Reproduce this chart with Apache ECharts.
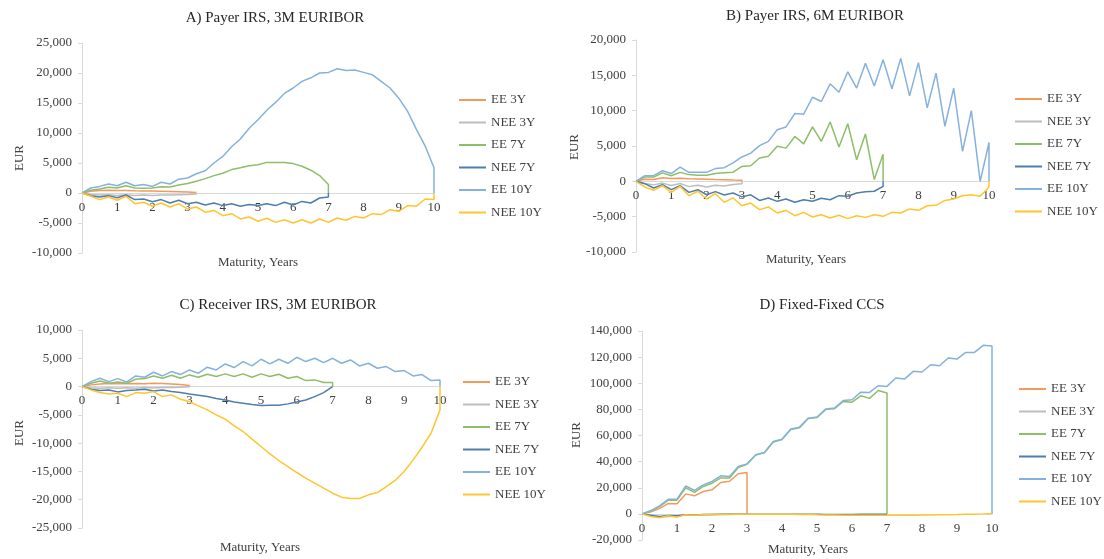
<!DOCTYPE html>
<html>
<head>
<meta charset="utf-8">
<script src="https://cdn.jsdelivr.net/npm/echarts@6/dist/echarts.min.js"></script>
<style>
  html, body { margin: 0; padding: 0; background: #fff; }
  #chart { width: 1104px; height: 559px; }
</style>
</head>
<body>
<div id="chart"></div>
<script>
// Quarterly exposure grid, in years
const maturities = [0, 0.25, 0.5, 0.75, 1, 1.25, 1.5, 1.75, 2, 2.25, 2.5, 2.75, 3, 3.25, 3.5, 3.75,
  4, 4.25, 4.5, 4.75, 5, 5.25, 5.5, 5.75, 6, 6.25, 6.5, 6.75, 7, 7.25, 7.5, 7.75,
  8, 8.25, 8.5, 8.75, 9, 9.25, 9.5, 9.75, 10];

const seriesNames = ['EE 3Y', 'NEE 3Y', 'EE 7Y', 'NEE 7Y', 'EE 10Y', 'NEE 10Y'];
const panelTitles = ['A) Payer IRS, 3M EURIBOR', 'B) Payer IRS, 6M EURIBOR',
  'C) Receiver IRS, 3M EURIBOR', 'D) Fixed-Fixed CCS'];
const xTitle = 'Maturity, Years';
const yTitle = 'EUR';

// Each profile runs quarter by quarter up to its maturity; the last entry is the
// exposure once the trade has matured, plotted at the maturity date itself.

// A) Payer IRS, 3M EURIBOR
const aEE3 = [0, 300, 400, 450, 420, 430, 380, 350, 330, 300, 260, 220, 150, 80, 0];
const aNEE3 = [0, -250, -350, -300, -400, -300, -400, -350, -400, -350, -350, -300, -250, -150, 0];
const aEE7 = [0, 450, 670, 950, 830, 1200, 830, 780, 830, 1050, 1000, 1330, 1600, 1950, 2400,
  2900, 3300, 3900, 4200, 4550, 4700, 5100, 5100, 5100, 4900, 4450, 3800, 2900, 1400, 0];
const aNEE7 = [0, -440, -670, -440, -780, -330, -1100, -1000, -1450, -1100, -1670, -1200, -1780, -1550, -2000,
  -1670, -2100, -1780, -2200, -1900, -2100, -1780, -2100, -1550, -2000, -1400, -1670, -830, -670, 0];
const aEE10 = [0, 830, 1100, 1500, 1200, 1800, 1200, 1400, 1100, 1800, 1500, 2300, 2500, 3200, 3700,
  5000, 6100, 7700, 9000, 10800, 12200, 13800, 15100, 16600, 17500, 18600, 19200, 20000, 20100, 20700,
  20400, 20500, 20100, 19700, 18600, 17500, 15800, 13600, 10600, 7800, 4200, 0];
const aNEE10 = [0, -550, -1100, -670, -1200, -550, -1780, -1550, -2200, -1670, -2330, -1780, -2670, -2330, -3200,
  -2900, -3780, -3450, -4330, -4000, -4700, -4200, -4900, -4450, -5000, -4450, -5000, -4330, -4900, -4170,
  -4550, -3900, -4170, -3450, -3600, -2780, -3050, -2100, -2200, -1000, -1100, 0];

// B) Payer IRS, 6M EURIBOR
const bEE3 = [0, 300, 250, 500, 400, 450, 350, 330, 300, 250, 220, 180, 150, 0];
const bNEE3 = [0, -300, -500, -250, -600, -300, -750, -550, -800, -550, -650, -450, -350, 0];
const bEE7 = [0, 600, 600, 1200, 800, 1270, 950, 850, 850, 1100, 1200, 1300, 2100, 2200, 3300,
  3550, 4950, 4700, 6350, 5300, 7700, 5650, 8400, 4850, 8150, 3050, 6700, 250, 3850, 0];
const bNEE7 = [0, -330, -950, -470, -1180, -600, -1560, -1180, -1900, -1460, -1930, -1650, -2200, -1900, -2700,
  -2350, -2830, -2500, -2970, -2600, -2830, -2400, -2600, -2030, -2120, -1650, -1460, -1400, -700, 0];
const bEE10 = [0, 800, 800, 1500, 1100, 2000, 1270, 1270, 1270, 1800, 1930, 2600, 3450, 4000, 5050,
  5650, 7300, 7700, 9600, 9500, 11900, 11300, 13800, 12600, 15500, 13200, 16700, 13500, 17200, 13100,
  17400, 12100, 16800, 10400, 15300, 7800, 13200, 4250, 10000, 0, 5500, 0];
const bNEE10 = [0, -800, -1270, -600, -1560, -700, -2030, -1400, -2500, -1750, -2970, -2350, -3450, -3070, -4000,
  -3630, -4480, -4100, -4860, -4390, -5050, -4720, -5190, -4810, -5280, -4860, -5100, -4720, -4950, -4390,
  -4480, -3900, -4100, -3450, -3400, -2700, -2500, -2030, -1900, -2100, -800, 0];

// C) Receiver IRS, 3M EURIBOR
const cEE3 = [0, 300, 450, 550, 500, 500, 550, 520, 600, 550, 450, 350, 200, 0];
const cNEE3 = [0, -200, -300, -200, -300, -200, -300, -150, -250, -150, -150, -100, -50, 0];
const cEE7 = [0, 590, 1000, 590, 820, 590, 1300, 1410, 1880, 1470, 2000, 1470, 2060, 1650, 2180,
  1770, 2240, 1770, 2240, 1650, 2240, 1770, 2180, 1470, 1770, 1060, 1180, 710, 710, 0];
const cNEE7 = [0, -470, -700, -590, -940, -700, -590, -470, -770, -590, -880, -1060, -1300, -1530, -1770,
  -2120, -2360, -2710, -2940, -3180, -3360, -3300, -3300, -3060, -2710, -2360, -1770, -1060, 0, 0];
const cEE10 = [0, 880, 1470, 880, 1410, 820, 1880, 1650, 2530, 1880, 2650, 2120, 2940, 2360, 3420,
  2940, 4000, 3360, 4420, 3650, 4830, 4000, 4830, 4120, 5180, 4420, 5000, 4240, 5000, 4120,
  4710, 3650, 4120, 3240, 3530, 2650, 2830, 1880, 2120, 1060, 1180, 0];
const cNEE10 = [0, -590, -1060, -1300, -1180, -1770, -1060, -1180, -880, -1770, -1470, -2240, -2650, -3420, -4120,
  -5000, -5770, -6950, -7950, -9300, -10600, -11900, -13070, -14130, -15190, -16200, -17080, -17960, -18850, -19550,
  -19790, -19790, -19140, -18730, -17670, -16600, -15020, -12960, -10720, -8250, -4120, 0];

// D) Fixed-Fixed CCS
const dEE3 = [0, 1500, 4000, 8000, 7700, 15300, 13800, 17100, 18400, 24000, 25000, 30700, 31700, 0];
const dNEE3 = [0, -1500, -2500, -2000, -1500, -800, -1000, -600, -500, -400, -300, -200, -100, 0];
const dEE7 = [0, 2000, 5500, 10500, 10500, 20000, 16500, 21000, 23500, 27500, 27500, 35500, 38000, 45000, 47000,
  55000, 57000, 64500, 66000, 73000, 73800, 80000, 80500, 86000, 85500, 90400, 88400, 94500, 92500, 0];
const dNEE7 = [0, -1000, -2000, -1200, -1500, -600, -800, -500, -400, -300, -300, -200, -200, -300, -200,
  -300, -200, -300, -200, -300, -300, -400, -500, -400, -400, -300, -300, -200, -200, 0];
const dEE10 = [0, 2550, 6100, 11200, 11200, 21500, 17900, 22200, 24800, 29100, 28600, 36300, 38300, 45200, 47000,
  55400, 57200, 64900, 66400, 73300, 74100, 80200, 81000, 86800, 87400, 93200, 93000, 98100, 97600, 104000,
  103200, 109100, 108600, 114200, 113400, 119300, 118500, 123600, 123600, 129000, 128500, 0];
const dNEE10 = [0, -2000, -3000, -1500, -2500, -600, -1000, -500, -500, -400, -400, -300, -300, -300, -200,
  -200, -300, -300, -400, -500, -700, -800, -900, -1000, -1000, -1000, -1000, -1000, -1100, -1100,
  -1000, -1000, -900, -900, -700, -600, -500, -300, -200, 0, 300, 0];

// Y-axis ranges per panel
const yRanges = [
  { min: -10000, max: 25000, interval: 5000 },
  { min: -10000, max: 20000, interval: 5000 },
  { min: -25000, max: 10000, interval: 5000 },
  { min: -20000, max: 140000, interval: 20000 }
];

const panelData = [
  [aEE3, aNEE3, aEE7, aNEE7, aEE10, aNEE10],
  [bEE3, bNEE3, bEE7, bNEE7, bEE10, bNEE10],
  [cEE3, cNEE3, cEE7, cNEE7, cEE10, cNEE10],
  [dEE3, dNEE3, dEE7, dNEE7, dEE10, dNEE10]
];

const colors = ['#F19A5E', '#BDBDBD', '#8DBE68', '#4F7DAE', '#86B1DD', '#FFC52E'];
const FONT = '"Liberation Serif", "Times New Roman", serif';

// Pair each value with its date; the closing entry sits on the final maturity
function toPoints(values) {
  const last = values.length - 2;
  return values.map((v, i) => [maturities[Math.min(i, last)], v]);
}

// Plot areas and text anchors
const grids = [
  { left: 82, top: 43, width: 352, height: 210 },
  { left: 636, top: 40, width: 353, height: 212 },
  { left: 82, top: 330, width: 358, height: 198 },
  { left: 642, top: 331, width: 350, height: 209 }
];
const legendPos = [
  { left: 459, top: 93 },
  { left: 1015, top: 92 },
  { left: 463, top: 375 },
  { left: 1019, top: 382 }
];
const titlePos = [[275, 18], [815, 16], [278, 305], [822, 305]];
const yTitlePos = [[20, 158], [575, 147], [20, 433], [577, 435]];
const xTitlePos = [[258, 263], [806, 260], [260, 548], [808, 550]];

const xAxes = [], yAxes = [], series = [], legends = [], graphics = [];

grids.forEach((g, p) => {
  const r = yRanges[p];
  // the category axis crosses the value axis at zero, labels riding along with it
  const zeroLift = -g.height * (0 - r.min) / (r.max - r.min);
  xAxes.push({
    type: 'value', gridIndex: p, min: 0, max: 10, interval: 1,
    position: 'bottom', offset: zeroLift,
    axisLine: { onZero: false, lineStyle: { color: '#D9D9D9', width: 1 } },
    axisTick: { show: false },
    splitLine: { show: false },
    axisLabel: { color: '#404040', fontFamily: FONT, fontSize: 13, margin: 8 }
  });
  yAxes.push({
    type: 'value', gridIndex: p,
    min: r.min, max: r.max, interval: r.interval,
    axisLine: { show: true, onZero: false, lineStyle: { color: '#D9D9D9', width: 1 } },
    axisTick: { show: true, length: 4, lineStyle: { color: '#D9D9D9' } },
    splitLine: { show: false },
    axisLabel: {
      color: '#404040', fontFamily: FONT, fontSize: 13, margin: 10,
      formatter: v => v.toLocaleString('en-US')
    }
  });
  panelData[p].forEach((vals, s) => {
    series.push({
      name: seriesNames[s], type: 'line', xAxisIndex: p, yAxisIndex: p,
      data: toPoints(vals), symbol: 'none', silent: true, animation: false,
      lineStyle: { color: colors[s], width: 1.5 },
      itemStyle: { color: colors[s] }
    });
  });
  legends.push({
    data: seriesNames, orient: 'vertical', left: legendPos[p].left, top: legendPos[p].top,
    padding: 0, icon: 'rect', itemWidth: 27, itemHeight: 2, itemGap: 8.5, selectedMode: false,
    textStyle: { color: '#404040', fontFamily: FONT, fontSize: 13, lineHeight: 14 }
  });
  graphics.push({
    type: 'text', x: titlePos[p][0], y: titlePos[p][1],
    style: { text: panelTitles[p], fill: '#262626', font: '15px ' + FONT, textAlign: 'center', textVerticalAlign: 'middle' }
  });
  graphics.push({
    type: 'text', x: yTitlePos[p][0], y: yTitlePos[p][1], rotation: Math.PI / 2,
    style: { text: yTitle, fill: '#404040', font: '13px ' + FONT, textAlign: 'center', textVerticalAlign: 'middle' }
  });
  graphics.push({
    type: 'text', x: xTitlePos[p][0], y: xTitlePos[p][1],
    style: { text: xTitle, fill: '#404040', font: '13px ' + FONT, textAlign: 'center', textVerticalAlign: 'middle' }
  });
});

const chart = echarts.init(document.getElementById('chart'), null, { renderer: 'canvas' });
chart.setOption({
  backgroundColor: '#ffffff',
  animation: false,
  grid: grids,
  xAxis: xAxes,
  yAxis: yAxes,
  legend: legends,
  series: series,
  graphic: graphics
});
</script>
</body>
</html>
